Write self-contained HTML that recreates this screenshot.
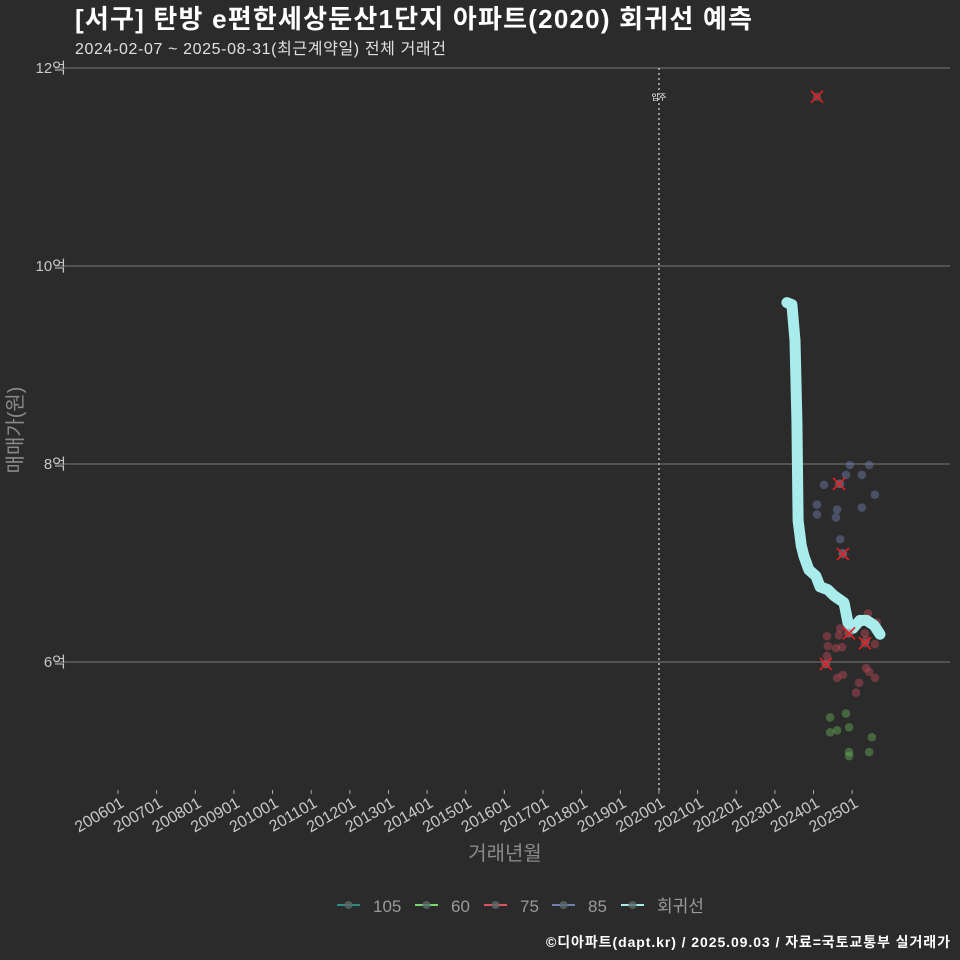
<!DOCTYPE html>
<html><head><meta charset="utf-8"><style>
body{margin:0;background:#2b2b2b;}
svg{display:block;font-family:"Liberation Sans","Noto Sans CJK KR",sans-serif;}
</style></head><body>
<svg id="c" width="960" height="960">
<rect width="960" height="960" fill="#2b2b2b"/>
<text x="75" y="28" font-size="26" font-weight="bold" fill="#ffffff" textLength="677">[서구] 탄방 e편한세상둔산1단지 아파트(2020) 회귀선 예측</text>
<text x="75" y="54" font-size="16" fill="#e0e0e0" textLength="371">2024-02-07 ~ 2025-08-31(최근계약일) 전체 거래건</text>
<text transform="translate(22,430) rotate(-90)" text-anchor="middle" font-size="20" fill="#8a8a8a">매매가(원)</text>
<text x="505" y="860" text-anchor="middle" font-size="20" fill="#8a8a8a">거래년월</text>
<text x="950" y="947" text-anchor="end" font-size="14" font-weight="bold" fill="#ffffff" textLength="404">©디아파트(dapt.kr) / 2025.09.03 / 자료=국토교통부 실거래가</text>
<g id="grid"></g><g id="axes"></g><g id="marks"></g><g id="legend"></g>
</svg>
<script>
const yTicks=[6,8,10,12];
const xTickYears=[2006,2007,2008,2009,2010,2011,2012,2013,2014,2015,2016,2017,2018,2019,2020,2021,2022,2023,2024,2025];
const curveX=[2023.31,2023.44,2023.52,2023.57,2023.60,2023.68,2023.75,2023.88,2024.06,2024.17,2024.37,2024.53,2024.79,2024.89,2025.02,2025.20,2025.38,2025.57,2025.72];
const curveY=[9.63,9.61,9.25,8.44,7.43,7.18,7.07,6.93,6.87,6.76,6.73,6.67,6.60,6.40,6.34,6.42,6.42,6.37,6.28];
const s85X=[2024.94,2025.44,2024.84,2025.25,2024.27,2024.69,2025.59,2024.09,2024.61,2024.09,2024.58,2025.25,2024.69,2024.76];
const s85Y=[7.99,7.99,7.89,7.89,7.79,7.80,7.69,7.59,7.54,7.49,7.46,7.56,7.24,7.10];
const s75X=[2025.41,2025.64,2024.69,2024.35,2024.66,2024.89,2025.33,2024.58,2024.37,2024.35,2024.74,2024.32,2025.59,2025.36,2024.61,2024.76,2025.36,2025.44,2025.59,2025.18,2025.10];
const s75Y=[6.49,6.40,6.34,6.26,6.27,6.29,6.29,6.14,6.16,6.06,6.15,5.98,6.18,6.22,5.84,5.87,5.94,5.90,5.84,5.79,5.69];
const s60X=[2024.43,2024.84,2024.43,2024.61,2024.92,2025.51,2024.92,2024.92,2025.44];
const s60Y=[5.44,5.48,5.29,5.31,5.34,5.24,5.09,5.05,5.09];
const xMarkX=[2024.66,2024.76,2024.32,2024.92,2025.33,2024.09];
const xMarkY=[7.80,7.09,5.98,6.29,6.19,11.71];
const moveIn=2020;
const NS='http://www.w3.org/2000/svg';
const X=t=>118+(t-2006)*38.64;
const Y=v=>68+(12-v)*99;
function mk(tag,attrs,parent){const e=document.createElementNS(NS,tag);for(const k in attrs)e.setAttribute(k,attrs[k]);document.getElementById(parent).appendChild(e);return e;}
yTicks.forEach(v=>{
 const l=mk('line',{x1:55,x2:950,y1:Y(v),y2:Y(v),stroke:'#6a6a6a','stroke-width':1.2},'grid');
 
 
 const t=mk('text',{x:66,y:Y(v)+5,'text-anchor':'end','font-size':15,fill:'#c8c8c8'},'axes');
 t.textContent=v+'억';
 
 
});
xTickYears.forEach(yr=>{
 const x=X(yr);
 const l=mk('line',{x1:x,x2:x,y1:790,y2:794,stroke:'#aaa','stroke-width':1},'axes');
 
 
 const t=mk('text',{transform:`translate(${x+7},806) rotate(-30)`,'text-anchor':'end','font-size':16,fill:'#c8c8c8'},'axes');
 t.textContent=yr+'01';
 
 
});
const vl=mk('line',{x1:X(moveIn),x2:X(moveIn),y1:68,y2:790,stroke:'#bbbbbb','stroke-width':1.5,'stroke-dasharray':'2,3'},'marks');


const ml=mk('text',{x:X(moveIn),y:100,'text-anchor':'middle','font-size':8,fill:'#fff'},'marks');
ml.textContent='입주';


function pts(xs,ys,col,name){xs.forEach((t,i)=>{
 const c=mk('circle',{cx:X(t),cy:Y(ys[i]),r:4.3,fill:col,'fill-opacity':0.45},'marks');
 
 
});}
pts(s85X,s85Y,'#7080b0','point-85');
pts(s75X,s75Y,'#c04a58','point-75');
pts(s60X,s60Y,'#68b058','point-60');
const d=curveX.map((t,i)=>(i?'L':'M')+X(t).toFixed(1)+','+Y(curveY[i]).toFixed(1)).join(' ');
const p=mk('path',{d:d,fill:'none',stroke:'#a8ecec','stroke-width':11,'stroke-linecap':'round','stroke-linejoin':'round'},'marks');


xMarkX.forEach((t,i)=>{
 const x=X(t),y=Y(xMarkY[i]);
 const b=mk('circle',{cx:x,cy:y,r:4.3,fill:'#707070','fill-opacity':0.5},'marks');
 
 
 const g=mk('path',{d:`M${x-6},${y-6}L${x+6},${y+6}M${x-6},${y+6}L${x+6},${y-6}`,stroke:'#ee1c24','stroke-width':1.6},'marks');
 
 
});
const legendLabels=['105','60','75','85','회귀선'];
const legendColors=['#2a8a86','#7ad870','#e05060','#7080b0','#a8ecec'];
const legendX=[337,415,484,552,621];
legendLabels.forEach((lab,i)=>{
 const x=legendX[i];
 const l=mk('line',{x1:x,x2:x+23,y1:905,y2:905,stroke:legendColors[i],'stroke-width':2},'legend');
 
 
 const c=mk('circle',{cx:x+11.5,cy:905,r:4,fill:'#5a6a6a','fill-opacity':0.8},'legend');
 
 
 const t=mk('text',{x:x+36,y:912,'font-size':17,fill:'#9a9a9a'},'legend');
 t.textContent=lab;
 
 
});
</script>
</body></html>
